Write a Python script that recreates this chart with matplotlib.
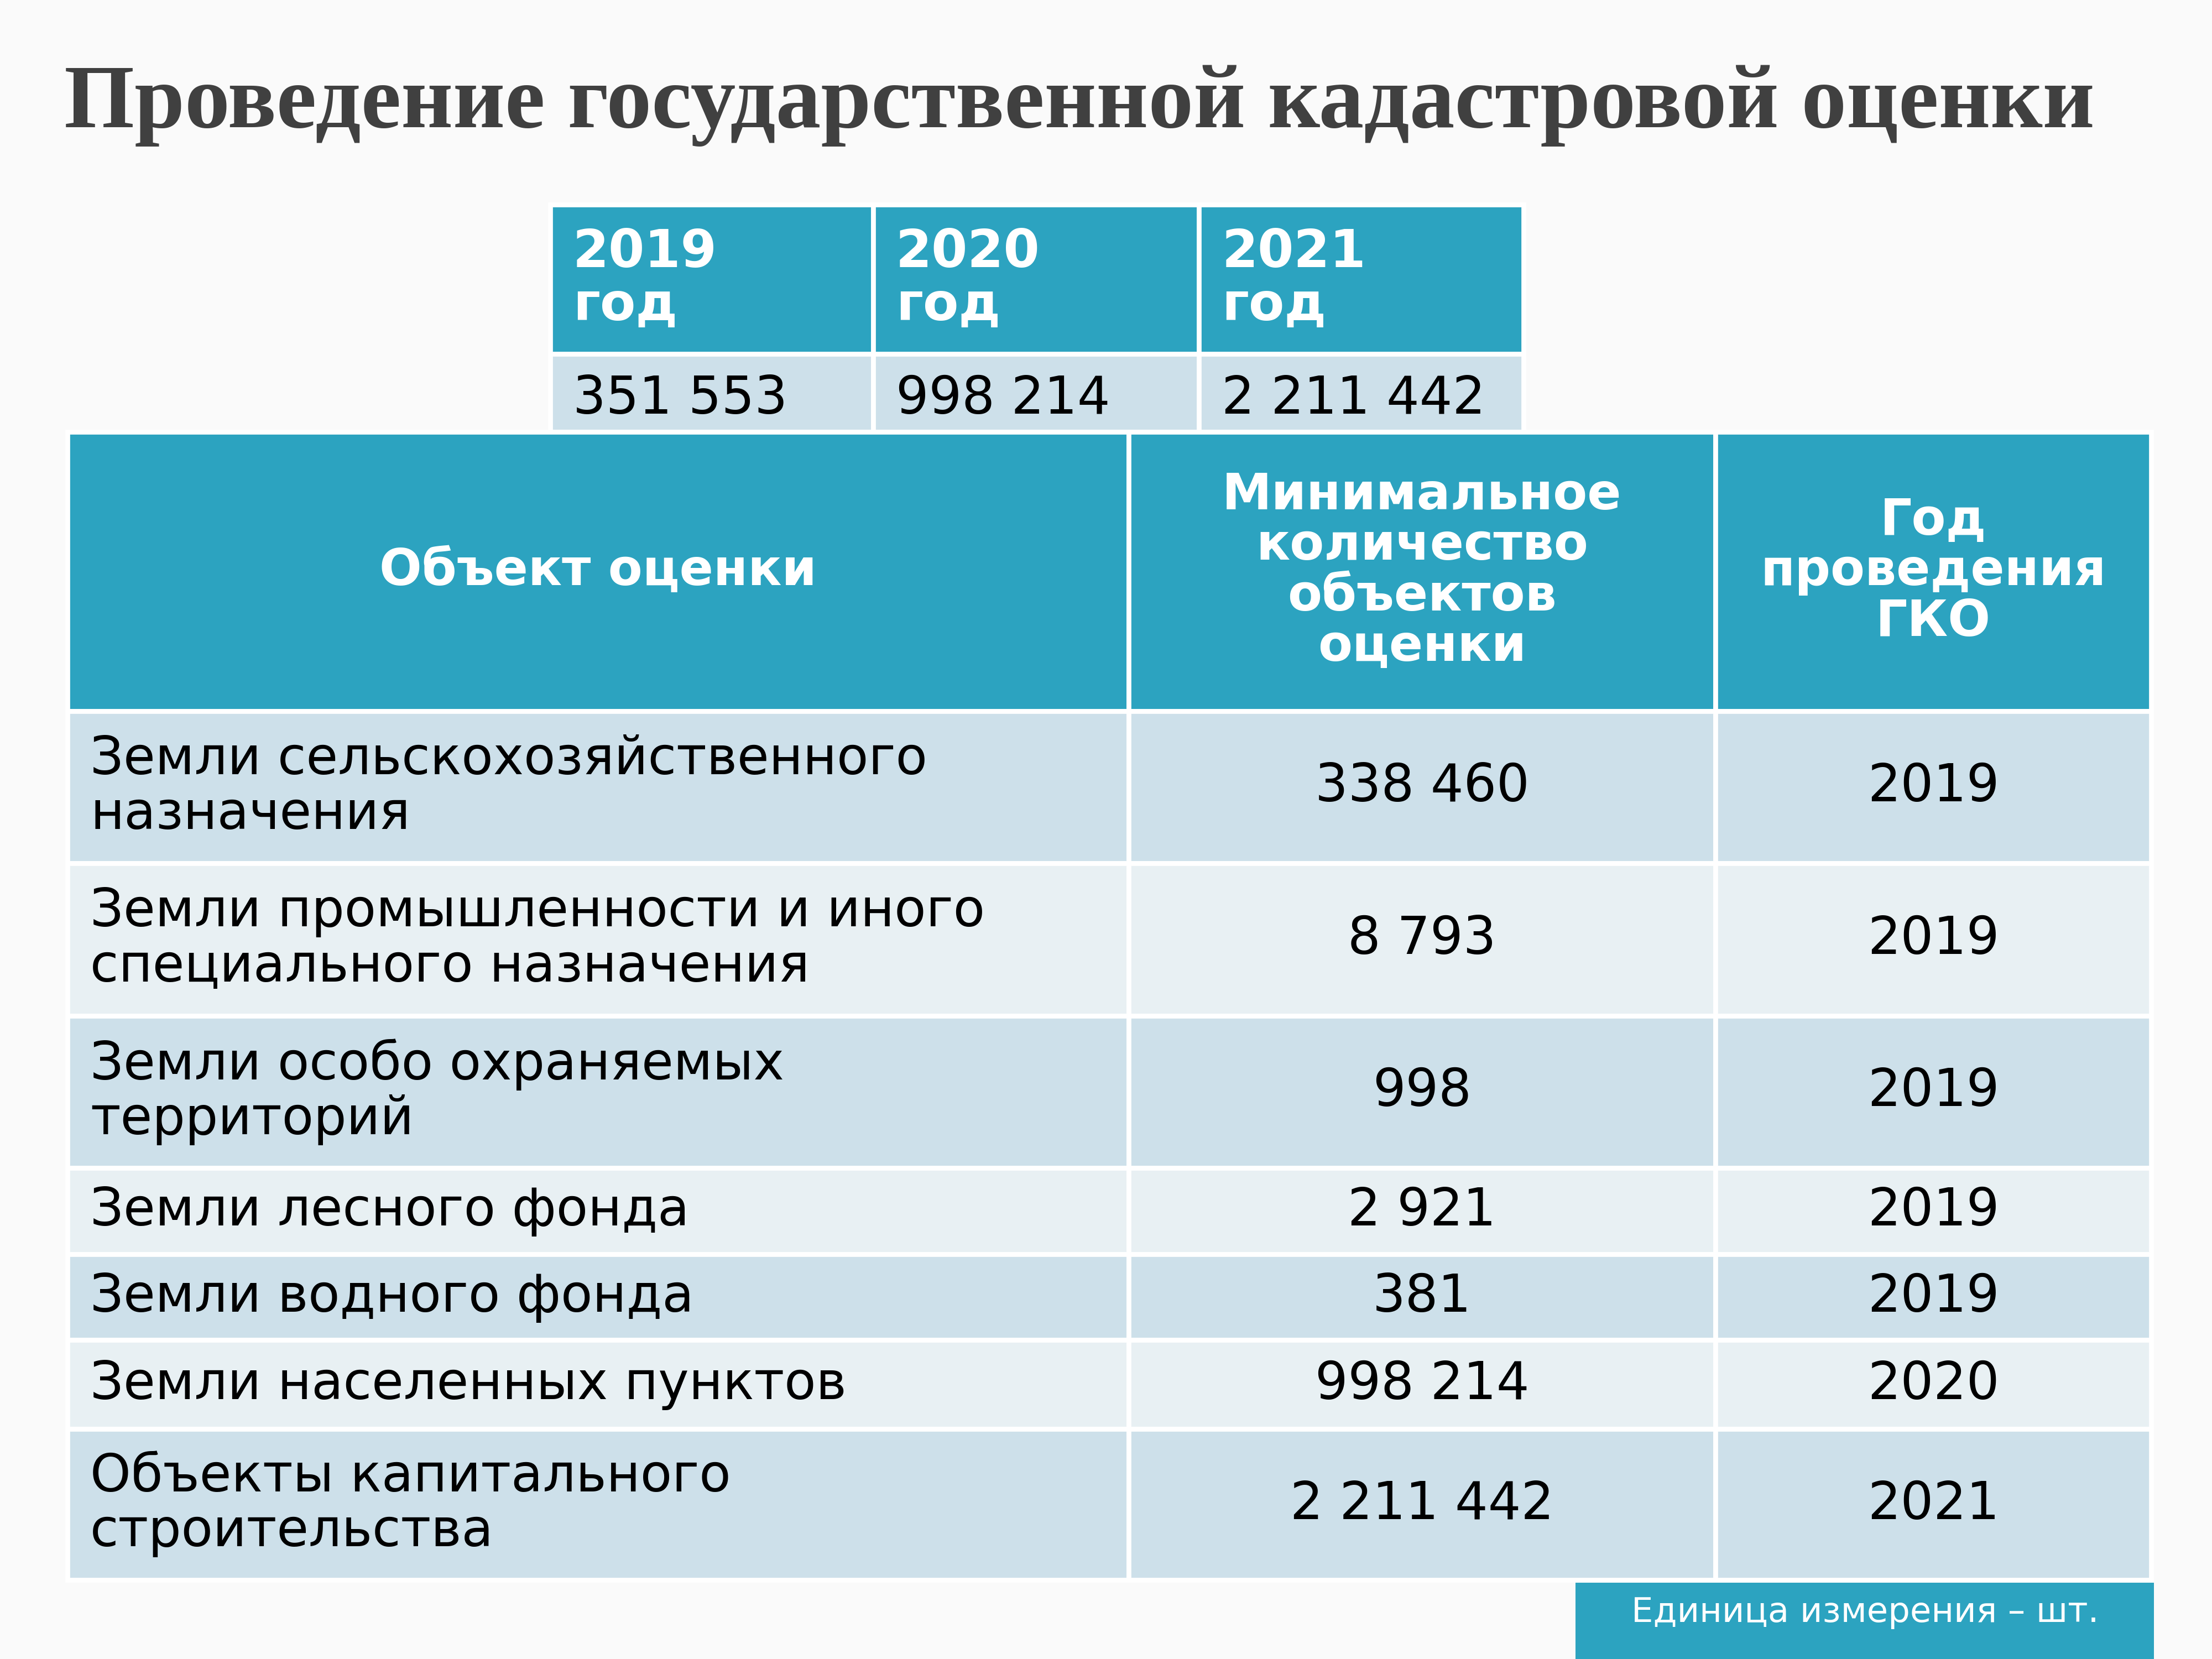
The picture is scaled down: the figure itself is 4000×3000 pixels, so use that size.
import matplotlib.pyplot as plt
from matplotlib.patches import Rectangle

title = "Проведение государственной кадастровой оценки"
years = ["2019\nгод", "2020\nгод", "2021\nгод"]
year_totals = ["351 553", "998 214", "2 211 442"]
headers = ["Объект оценки", "Минимальное\nколичество\nобъектов\nоценки", "Год\nпроведения\nГКО"]
objects = ["Земли сельскохозяйственного\nназначения",
           "Земли промышленности и иного\nспециального назначения",
           "Земли особо охраняемых\nтерриторий",
           "Земли лесного фонда",
           "Земли водного фонда",
           "Земли населенных пунктов",
           "Объекты капитального\nстроительства"]
counts = ["338 460", "8 793", "998", "2 921", "381", "998 214", "2 211 442"]
gko_years = ["2019", "2019", "2019", "2019", "2019", "2020", "2021"]
unit_note = "Единица измерения – шт."

HEAD = "#2ca3c0"
ROW_A = "#cde0ea"
ROW_B = "#e8f0f3"

fig = plt.figure(figsize=(16, 12), dpi=250)
fig.patch.set_facecolor("#fafafa")
ax = fig.add_axes([0, 0, 1, 1])
ax.set_xlim(0, 1568)
ax.set_ylim(1176, 0)
ax.axis("off")

def cell(x0, x1, y0, y1, color):
    ax.add_patch(Rectangle((x0, y0), x1 - x0, y1 - y0, facecolor=color,
                           edgecolor="white", linewidth=2.5))

ax.text(765, 75, title, ha="center", va="center", fontsize=47,
        fontweight="bold", family="Liberation Serif", color="#404040")

# small table with totals by year
top_cols = [390, 619, 850, 1080]
for i in range(3):
    cell(top_cols[i], top_cols[i + 1], 145, 251, HEAD)
    cell(top_cols[i], top_cols[i + 1], 251, 306, ROW_A)
    ax.text(top_cols[i] + 16, 198, years[i], ha="left", va="center", fontsize=27,
            fontweight="bold", color="white", linespacing=1.05)
    ax.text(top_cols[i] + 16, 283, year_totals[i], ha="left", va="center",
            fontsize=27, color="black")

# main table
cols = [48, 800, 1216, 1525]
cell(cols[0], cols[1], 306, 504, HEAD)
cell(cols[1], cols[2], 306, 504, HEAD)
cell(cols[2], cols[3], 306, 504, HEAD)
ax.text((cols[0] + cols[1]) / 2, 405, headers[0], ha="center", va="center",
        fontsize=26, fontweight="bold", color="white")
for j in (1, 2):
    ax.text((cols[j] + cols[j + 1]) / 2, 405, headers[j], ha="center", va="center",
            fontsize=26, fontweight="bold", color="white", linespacing=1.05)

row_edges = [504, 612, 720, 828, 889, 950, 1013, 1120]
for i, (obj, cnt, yr) in enumerate(zip(objects, counts, gko_years)):
    y0, y1 = row_edges[i], row_edges[i + 1]
    color = ROW_A if i % 2 == 0 else ROW_B
    for j in range(3):
        cell(cols[j], cols[j + 1], y0, y1, color)
    yc = (y0 + y1) / 2
    ax.text(cols[0] + 16, yc, obj, ha="left", va="center", fontsize=27,
            color="black", linespacing=1.1)
    ax.text((cols[1] + cols[2]) / 2, yc, cnt, ha="center", va="center",
            fontsize=27, color="black")
    ax.text((cols[2] + cols[3]) / 2, yc, yr, ha="center", va="center",
            fontsize=27, color="black")

ax.add_patch(Rectangle((1117, 1122), 410, 54, facecolor=HEAD, edgecolor="none"))
ax.text(1322, 1143, unit_note, ha="center", va="center", fontsize=18, color="white")

fig.savefig("out.png", dpi=250, facecolor=fig.get_facecolor())
